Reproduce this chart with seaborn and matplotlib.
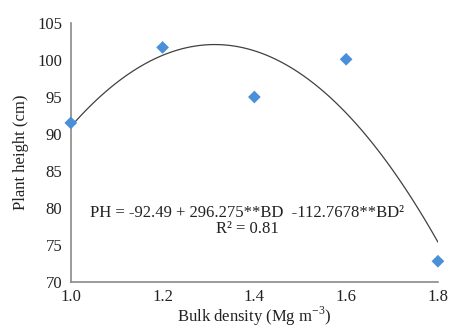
import matplotlib
matplotlib.use("Agg")
import matplotlib.pyplot as plt
import seaborn as sns
import pandas as pd

bulk_density = [1.0, 1.2, 1.4, 1.6, 1.8]
plant_height = [91.5, 101.7, 95.0, 100.1, 72.8]
x_ticks = [1.0, 1.2, 1.4, 1.6, 1.8]
y_ticks = [70, 75, 80, 85, 90, 95, 100, 105]
equation = "PH = -92.49 + 296.275**BD  -112.7678**BD²"
r2_text = "R² = 0.81"

sns.set_theme(style="white")
plt.rcParams['font.family'] = ['Liberation Serif', 'DejaVu Serif']
plt.rcParams['mathtext.fontset'] = 'custom'
plt.rcParams['mathtext.rm'] = 'Liberation Serif'

df = pd.DataFrame({"BD": bulk_density, "PH": plant_height})

fig = plt.figure(figsize=(4.51, 3.29), dpi=100)
ax = fig.add_axes([0.157, 0.143, 0.814, 0.787])

sns.regplot(data=df, x="BD", y="PH", order=2, ci=None, scatter=False,
            truncate=True, ax=ax, line_kws=dict(color="#404040", lw=0.9))
sns.scatterplot(data=df, x="BD", y="PH", marker="D", s=42, color="#4A90D9",
                edgecolor="none", ax=ax, clip_on=False, zorder=5)

ax.set_xlim(1.0, 1.8)
ax.set_ylim(70, 105)
ax.set_xticks(x_ticks)
ax.set_xticklabels([f"{v:.1f}" for v in x_ticks])
ax.set_yticks(y_ticks)
ax.tick_params(axis="y", length=0, labelsize=12, colors="#222222", pad=6)
ax.tick_params(axis="x", length=0, labelsize=12, colors="#222222", pad=5)
for s in ["top", "right"]:
    ax.spines[s].set_visible(False)
for s in ["left", "bottom"]:
    ax.spines[s].set_color("#8a8a8a")
    ax.spines[s].set_linewidth(1.2)

ax.set_xlabel("Bulk density (Mg m$^{\\mathregular{-3}}$)", fontsize=12, color="#222222", labelpad=0)
ax.set_ylabel("Plant height (cm)", fontsize=12, color="#222222", labelpad=6)

ax.text(1.385, 79.3, equation, ha="center", va="center", fontsize=12, color="#222222")
ax.text(1.385, 77.1, r2_text, ha="center", va="center", fontsize=12, color="#222222")

fig.savefig("out.png", dpi=100)
